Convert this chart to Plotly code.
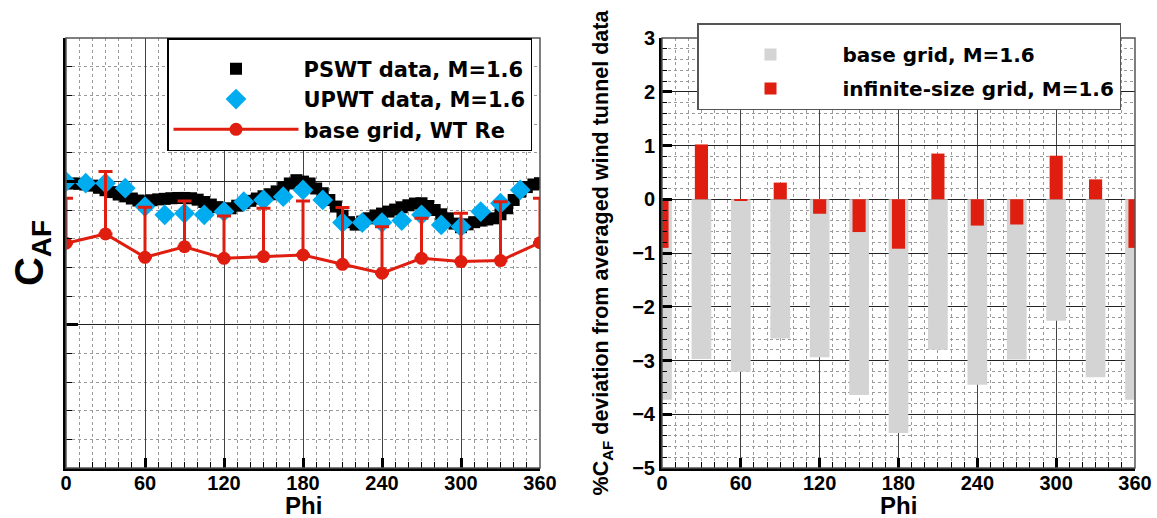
import plotly.graph_objects as go
from plotly.subplots import make_subplots

# ---------------- data: left panel ----------------
pswt_phi = list(range(0, 361, 5))
pswt_caf = [1.987, 1.985, 1.983, 1.978, 1.970, 1.955, 1.938, 1.925, 1.908, 1.895,
            1.880, 1.866, 1.860, 1.868, 1.874, 1.878, 1.882, 1.884, 1.884, 1.882,
            1.872, 1.856, 1.838, 1.820, 1.802, 1.812, 1.830, 1.848, 1.864, 1.880,
            1.896, 1.910, 1.930, 1.960, 1.985, 2.008, 1.998, 1.985, 1.950, 1.917,
            1.870, 1.824, 1.760, 1.715, 1.698, 1.719, 1.742, 1.762, 1.775, 1.789,
            1.803, 1.819, 1.833, 1.845, 1.847, 1.828, 1.800, 1.770, 1.742, 1.705,
            1.680, 1.700, 1.715, 1.726, 1.734, 1.742, 1.770, 1.812, 1.870, 1.928,
            1.960, 1.978, 1.987]

upwt_phi = list(range(0, 346, 15))
upwt_caf = [1.998, 1.987, 1.987, 1.952, 1.824, 1.766, 1.777, 1.766, 1.789, 1.858,
            1.870, 1.893, 1.940, 1.870, 1.712, 1.712, 1.712, 1.726, 1.766, 1.696,
            1.684, 1.789, 1.847, 1.940]

base_phi = list(range(0, 361, 30))
base_caf = [1.568, 1.633, 1.470, 1.544, 1.463, 1.475, 1.486, 1.421, 1.359, 1.463,
            1.440, 1.447, 1.572]
base_err_plus = [0.314, 0.435, 0.349, 0.319, 0.296, 0.337, 0.377, 0.396, 0.325,
                 0.279, 0.337, 0.411, 0.310]
base_err_minus = [0] * len(base_err_plus)

# ---------------- data: right panel ----------------
dev_phi = list(range(0, 361, 30))
dev_base = [-3.73, -2.97, -3.21, -2.59, -2.94, -3.64, -4.35, -2.80, -3.45, -2.98,
            -2.26, -3.31, -3.73]
dev_inf = [-0.905, 1.02, -0.02, 0.31, -0.27, -0.61, -0.92, 0.85, -0.49, -0.47,
           0.81, 0.37, -0.905]

x_ticks = [0, 60, 120, 180, 240, 300, 360]

RED = "rgb(224,30,16)"
CYAN = "rgb(0,172,240)"
GRAY = "rgb(212,212,212)"
FONT = "Liberation Sans"
LFONT = "DejaVu Sans"

W, H = 1157, 518
fig = make_subplots(rows=1, cols=2)

fig.add_trace(go.Scatter(
    x=pswt_phi, y=pswt_caf, mode="markers", name="PSWT data, M=1.6",
    marker=dict(symbol="square", size=12, color="black"), legend="legend"),
    row=1, col=1)
fig.add_trace(go.Scatter(
    x=upwt_phi, y=upwt_caf, mode="markers", name="UPWT data, M=1.6",
    marker=dict(symbol="diamond", size=16, color=CYAN), legend="legend"),
    row=1, col=1)
fig.add_trace(go.Scatter(
    x=base_phi, y=base_caf, mode="lines+markers", name="base grid, WT Re",
    line=dict(color=RED, width=3),
    marker=dict(symbol="circle", size=13, color=RED),
    error_y=dict(type="data", symmetric=False, array=base_err_plus,
                 arrayminus=base_err_minus, color=RED, thickness=3, width=7),
    legend="legend"),
    row=1, col=1)

fig.add_trace(go.Bar(
    x=dev_phi, y=dev_base, name="base grid, M=1.6", width=15,
    marker=dict(color=GRAY, line=dict(width=0)), legend="legend2",
    legendgroup="g1"),
    row=1, col=2)
fig.add_trace(go.Bar(
    x=dev_phi, y=dev_inf, name="infinite-size grid, M=1.6", width=10,
    marker=dict(color=RED, line=dict(width=0)), legend="legend2",
    legendgroup="g2"),
    row=1, col=2)

xd1 = [66 / W, 540 / W]
xd2 = [662 / W, 1135 / W]
yd = [1 - 468 / H, 1 - 38 / H]

tickfont = dict(family=FONT, size=20, color="black", weight="bold")
titlefont = dict(family=FONT, size=24, color="black", weight="bold")

common_x = dict(
    range=[0, 360], tickvals=x_ticks, ticks="inside", ticklen=10, tickwidth=2.5,
    tickcolor="black", showline=True, linecolor="black", linewidth=3,
    showgrid=True, gridcolor="#444", gridwidth=1.2, zeroline=False,
    tickfont=tickfont, automargin=False, ticklabelstandoff=-5,
    minor=dict(dtick=10, ticks="inside", ticklen=6, tickwidth=1.2, tickcolor="black",
               showgrid=True, gridcolor="#9a9a9a", griddash="dot", gridwidth=1),
)

fig.update_layout(
    xaxis=dict(domain=xd1, **common_x),
    xaxis2=dict(domain=xd2, **common_x),
    yaxis=dict(domain=yd, range=[0, 3], dtick=1, showticklabels=False,
               ticks="inside", ticklen=12, tickwidth=3, tickcolor="black",
               showline=True, linecolor="black", linewidth=3, automargin=False,
               showgrid=True, gridcolor="#222", gridwidth=1.2, zeroline=False,
               minor=dict(dtick=0.2, ticks="inside", ticklen=6, tickwidth=1.2,
                          tickcolor="black", showgrid=True, gridcolor="#9a9a9a",
                          griddash="dot", gridwidth=1),
               title=dict(text="C<sub>AF</sub>",
                          font=dict(family=FONT, size=40, color="black", weight="bold"),
                          standoff=8)),
    yaxis2=dict(domain=yd, range=[-5, 3], dtick=1, tickfont=tickfont,
                ticks="inside", ticklen=10, tickwidth=2.5, tickcolor="black",
                showline=True, linecolor="black", linewidth=3, automargin=False,
                showgrid=True, gridcolor="#222", gridwidth=1.2, zeroline=False,
                minor=dict(dtick=0.2, ticks="inside", ticklen=5, tickwidth=1.2,
                           tickcolor="black", showgrid=True, gridcolor="#9a9a9a",
                           griddash="dot", gridwidth=1),
                title=dict(text="%C<sub>AF</sub> deviation from averaged wind tunnel data",
                           font=dict(family=FONT, size=21.5, color="black", weight="bold"),
                           standoff=18)),
    barmode="overlay",
    width=W, height=H,
    margin=dict(l=0, r=0, t=0, b=0),
    paper_bgcolor="white", plot_bgcolor="white",
    showlegend=True,
    legend=dict(x=167 / W, y=1 - 38 / H, xanchor="left", yanchor="top",
                bgcolor="white", bordercolor="black", borderwidth=1.5,
                itemwidth=125, tracegroupgap=0,
                title=dict(text=" ", font=dict(size=7)),
                font=dict(family=LFONT, size=21, color="black", weight="bold")),
    legend2=dict(x=697 / W, y=1 - 23 / H, xanchor="left", yanchor="top",
                 bgcolor="white", bordercolor="#555", borderwidth=1.5,
                 itemwidth=134, tracegroupgap=5,
                 title=dict(text=" ", font=dict(size=8)),
                 font=dict(family=LFONT, size=20, color="black", weight="bold")),
)

# x-axis titles ("Phi") placed under each panel
for xref in ("x domain", "x2 domain"):
    fig.add_annotation(text="Phi", xref=xref, yref="paper", x=0.5,
                       y=(H - 505) / H, yanchor="middle", showarrow=False,
                       font=titlefont)

# thin frame on the top/right sides of each panel
for xr, yr in (("x domain", "y domain"), ("x2 domain", "y2 domain")):
    fig.add_shape(type="rect", xref=xr, yref=yr, x0=0, x1=1, y0=0, y1=1,
                  line=dict(color="#555", width=1.5), fillcolor="rgba(0,0,0,0)",
                  layer="above")

fig.write_html(
    "out.html",
    config={"displayModeBar": False},
    post_script="document.body.style.margin='0';document.body.style.overflow='hidden';",
)
